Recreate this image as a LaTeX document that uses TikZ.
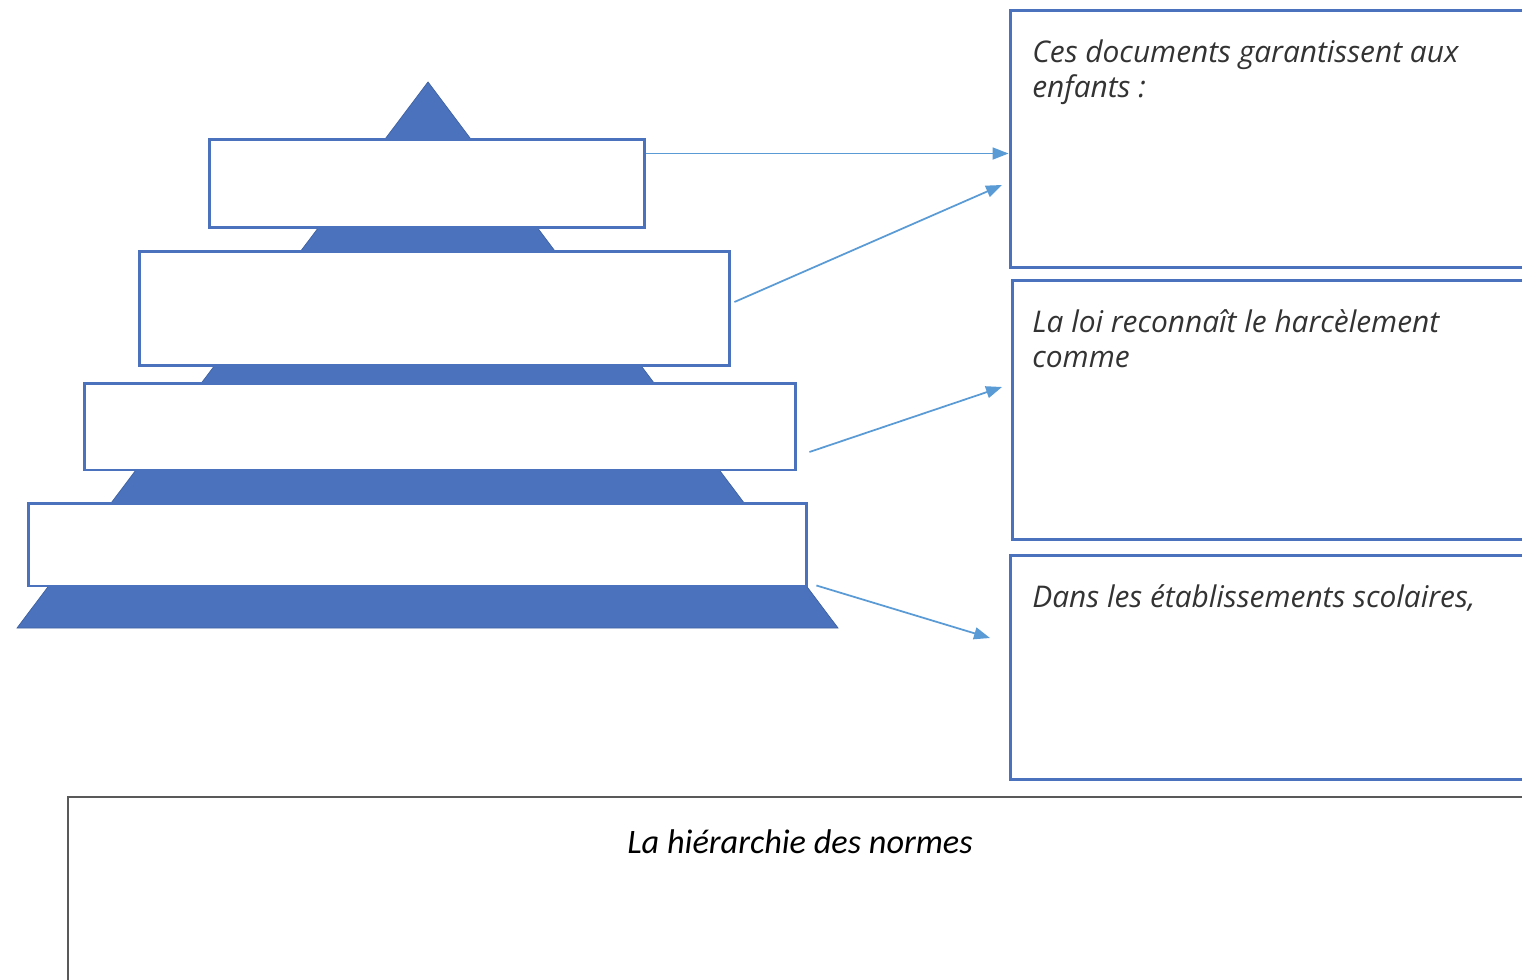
\documentclass[tikz,border=0pt]{standalone}
\usepackage{fontspec}
\setmainfont{Open Sans}
\newfontfamily\titrefont{Carlito}
\usetikzlibrary{arrows.meta,positioning}
\definecolor{pyrblue}{HTML}{4A72BD}
\definecolor{arrblue}{HTML}{5B9BD5}
\begin{document}
\begin{tikzpicture}[x=0.02cm,y=-0.02cm,
  palier/.style={draw=pyrblue,line width=1.7pt,fill=white,inner sep=0pt},
  cadre/.style={draw=pyrblue,line width=1.7pt,inner sep=0pt},
  fleche/.style={draw=arrblue,line width=1pt,-{Triangle[length=0.32cm,width=0.24cm]}},
  consigne/.style={anchor=north west,align=left,inner sep=0pt,text=black!80,
    font=\itshape\fontsize{17}{19.9}\selectfont}]
\useasboundingbox (0,0) rectangle (1522,980);
\clip (0,0) rectangle (1522,980);
\fill[pyrblue,draw=pyrblue!85!black](428,82)--(838,628)--(17,628)--cycle;
\node[palier,minimum width=8.72cm,minimum height=1.78cm] (b1) at (427,183.5) {};
\node[palier,minimum width=11.82cm,minimum height=2.30cm] (b2) at (434.5,308.5) {};
\node[palier,minimum width=14.24cm,minimum height=1.74cm] (b3) at (440,426.5) {};
\node[palier,minimum width=15.58cm,minimum height=1.66cm] (b4) at (417.5,544.5) {};
\node[cadre,minimum width=10.6cm,minimum height=5.16cm] (r1) at (1275,139) {};
\node[cadre,minimum width=10.56cm,minimum height=5.2cm] (r2) at (1276,410) {};
\node[cadre,minimum width=10.6cm,minimum height=4.5cm] (r3) at (1275,667.5) {};
\node[draw=black!65,line width=1.1pt,minimum width=29.44cm,minimum height=4.06cm,inner sep=0pt] (norme) at (804,898.5) {};
\node[consigne] (t1) at (1032,39) {Ces documents garantissent aux\\enfants :};
\node[consigne] (t2) at (1032,309) {La loi reconnaît le harcèlement\\comme};
\node[consigne] (t3) at (1032,584) {Dans les établissements scolaires,};
\node[font=\titrefont\itshape\fontsize{19.5}{23}\selectfont] (titre) at (800,842) {La hiérarchie des normes};
\coordinate (e2) at (1002,185);
\coordinate (e3) at (1002,387);
\coordinate (e4) at (990,638);
\draw[fleche]([yshift=-0.32cm]b1.north east)--([yshift=-0.32cm]b1.north east -| r1.west);
\draw[fleche]([xshift=0.06cm,yshift=0.13cm]b2.east)--(e2);
\draw[fleche]([xshift=0.24cm,yshift=-0.51cm]b3.east)--(e3);
\draw[fleche]([xshift=0.16cm,yshift=0.04cm]b4.south east)--(e4);
\end{tikzpicture}
\end{document}
